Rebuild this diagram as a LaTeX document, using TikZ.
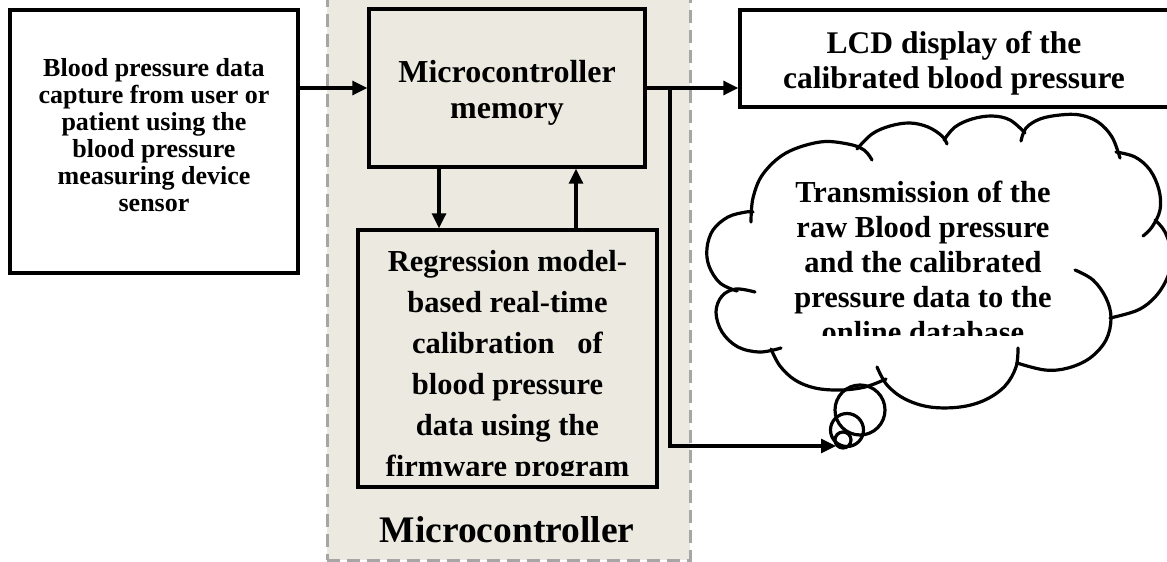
\documentclass[tikz,border=0pt]{standalone}
\usepackage{fontspec}
\setmainfont{Liberation Serif}
\usetikzlibrary{arrows.meta}
\definecolor{mcfill}{RGB}{236,234,224}
\definecolor{dashgray}{RGB}{166,166,166}
\begin{document}
\begin{tikzpicture}[x=1pt,y=-1pt,
  box/.style={draw=black,line width=3.4pt,inner sep=0pt},
  arr/.style={line width=3.2pt,-{Triangle[length=15pt,width=14pt]}},
  txt/.style={align=center,inner sep=0pt},
  puff/.style={draw=black,line width=3.2pt,line cap=round},
  puffline/.style={puff,smooth,tension=0.6}
]
\useasboundingbox (0,0) rectangle (1167,562);
% microcontroller region
\node[draw=dashgray,line width=3pt,dash pattern=on 13pt off 7pt,fill=mcfill,
  minimum width=363pt,minimum height=590pt,inner sep=0pt] (mc) at (508.5,265) {};
\node[txt,font=\fontsize{37.5}{40}\selectfont\bfseries] (mclab) at (507,530) {Microcontroller};
% boxes
\node[box,fill=white,minimum width=288pt,minimum height=263pt] (inbox) at (154,141.5) {};
\node[box,fill=mcfill,minimum width=276pt,minimum height=158pt] (mem) at (507,88) {};
\node[box,fill=mcfill,minimum width=299pt,minimum height=257pt] (reg) at (507.5,358.5) {};
\node[box,fill=white,minimum width=440pt,minimum height=97pt] (lcd) at (960,58.5) {};
% texts
\node[txt,font=\fontsize{26}{27}\selectfont\bfseries] (intxt) at (154,135)
  {Blood pressure data\\capture from user or\\patient using the\\blood pressure\\measuring device\\sensor};
\node[txt,font=\fontsize{32}{36}\selectfont\bfseries] (memtxt) at (507,93)
  {Microcontroller\\memory};
\node[txt,font=\fontsize{31.5}{35}\selectfont\bfseries] (lcdtxt) at (954,63)
  {LCD display of the\\calibrated blood pressure};
\begin{scope}
  \clip (358,230) rectangle (657,475);
  \node[txt,font=\fontsize{30.5}{41}\selectfont\bfseries] (regtxt) at (507.5,367)
    {Regression model-\\based real-time\\calibration\ \ \ of\\blood pressure\\data using the\\firmware program};
\end{scope}
% cloud outline, puff by puff
\draw[puff] plot[smooth,tension=0.6] coordinates {(737,291) (720,283) (709,266) (707,248) (713,230) (728,217) (746,212) (753,212)};
\draw[puff] plot[smooth,tension=0.6] coordinates {(751,222) (753,198) (763,174) (786,153) (820,142) (848,144) (864,150) (872,160)};
\draw[puff] plot[smooth,tension=0.6] coordinates {(857,149) (872,134) (890,126) (910,123) (928,127) (942,136) (947,144)};
\draw[puff] plot[smooth,tension=0.6] coordinates {(944,140) (955,127) (972,119) (992,116) (1010,120) (1025,133)};
\draw[puff] plot[smooth,tension=0.6] coordinates {(1021,141) (1026,128) (1040,119) (1060,115) (1080,115) (1098,122) (1112,137) (1120,158)};
\draw[puff] plot[smooth,tension=0.6] coordinates {(1116,152) (1135,157) (1150,170) (1159,190) (1160,210) (1152,227) (1143,236)};
\draw[puff] plot[smooth,tension=0.6] coordinates {(1155,220) (1165,232) (1172,255) (1168,276) (1156,296) (1138,310) (1110,318)};
\draw[puff] plot[smooth,tension=0.6] coordinates {(1075,270) (1093,280) (1106,298) (1111,318) (1106,340) (1090,358) (1068,368) (1045,370) (1017,363)};
\draw[puff] plot[smooth,tension=0.6] coordinates {(1018,348) (1016,367) (1005,386) (985,400) (960,407) (930,407) (905,399) (887,385) (877,367)};
\draw[puff] plot[smooth,tension=0.6] coordinates {(886,379) (865,387) (840,390) (815,388) (795,380) (780,366) (771,349)};
\draw[puff] plot[smooth,tension=0.6] coordinates {(781,348) (760,352) (738,347) (722,332) (716,312) (722,296) (736,289) (755,292)};
\begin{scope}
  \clip (700,150) rectangle (1167,335);
  \node[txt,font=\fontsize{30.5}{35}\selectfont\bfseries] (cltxt) at (923,262)
    {Transmission of the\\raw Blood pressure\\and the calibrated\\pressure data to the\\online database};
\end{scope}
\draw[puff] (860,410) circle[radius=25];
\draw[puff] (847,430) circle[radius=16.5];
\draw[puff] (843,440) circle[radius=8];
% connectors
\coordinate (br) at (670,88);
\coordinate (ctip) at (836,446);
\coordinate (dn) at (439,0);
\coordinate (up) at (576,0);
\draw[arr] (inbox.east |- mem.west) -- (mem.west);
\draw[arr] (mem.east) -- (mem.east -| lcd.west);
\draw[arr] (br) |- (ctip);
\draw[arr] (mem.south -| dn) -- (reg.north -| dn);
\draw[arr] (reg.north -| up) -- (mem.south -| up);
\end{tikzpicture}
\end{document}
